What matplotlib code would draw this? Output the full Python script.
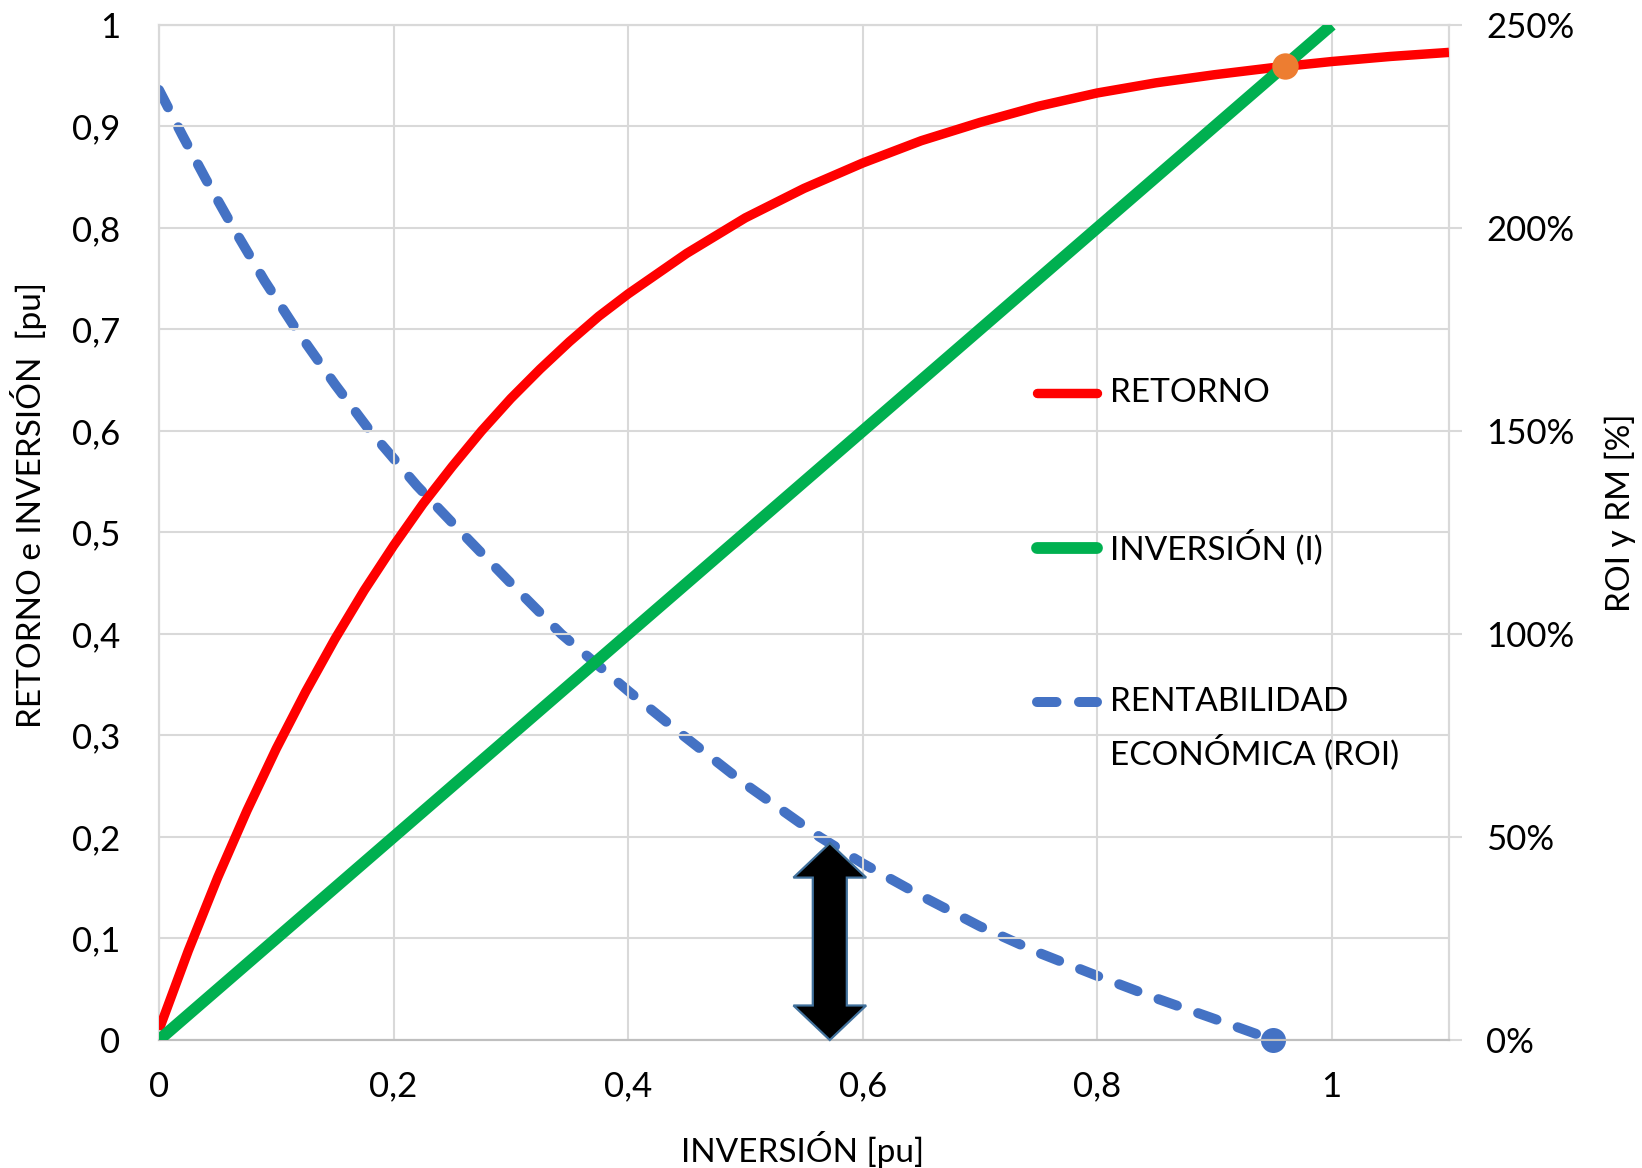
import matplotlib
matplotlib.use("Agg")
import matplotlib.pyplot as plt
from matplotlib.lines import Line2D
from matplotlib.patches import Polygon

plt.rcParams['font.family'] = ['Lato', 'DejaVu Sans']

# --- datos ---
inversion_x = [0.0, 1.0]
inversion_y = [0.0, 1.0]

retorno_x = [0.0, 0.025, 0.05, 0.075, 0.1, 0.125, 0.15, 0.175, 0.2, 0.225, 0.25, 0.275,
             0.3, 0.325, 0.35, 0.375, 0.4, 0.45, 0.5, 0.55, 0.6, 0.65, 0.7, 0.75,
             0.8, 0.85, 0.9, 0.95, 1.0, 1.05, 1.1]
retorno_y = [0.01, 0.088, 0.16, 0.226, 0.287, 0.343, 0.395, 0.443, 0.487, 0.528, 0.565, 0.6,
             0.632, 0.661, 0.688, 0.713, 0.735, 0.775, 0.81, 0.839, 0.864, 0.886, 0.904, 0.92,
             0.933, 0.943, 0.951, 0.958, 0.964, 0.969, 0.973]

roi_x = [0.0, 0.02, 0.04, 0.0634, 0.09, 0.117, 0.15, 0.18, 0.22, 0.258, 0.3, 0.343, 0.4,
         0.447, 0.5, 0.5635, 0.6, 0.65, 0.7, 0.75, 0.8, 0.85, 0.9, 0.95, 0.978]
roi_pct = [234, 222.8, 212, 200, 187, 175, 161.5, 150, 136.5, 125, 112.5, 100, 86,
           75, 63, 50, 43.5, 35.5, 28, 21.5, 15.8, 10.3, 5.2, 0, -3]

punto_equilibrio = (0.96, 0.96)     # RETORNO = INVERSIÓN
punto_roi_cero = (0.95, 0.0)        # ROI = 0 %
flecha_x, flecha_y = 0.572, 0.194   # flecha doble sobre el eje

ticks_x = [0, 0.2, 0.4, 0.6, 0.8, 1.0]
ticks_y = [0, 0.1, 0.2, 0.3, 0.4, 0.5, 0.6, 0.7, 0.8, 0.9, 1.0]
ticks_roi = [0, 50, 100, 150, 200, 250]

ROJO = '#ff0000'
VERDE = '#00b050'
AZUL = '#4472c4'
NARANJA = '#ed7d31'
GRIS = '#d9d9d9'
TRAZO_ROI = (1.95, 2.25)


def fmt_coma(v):
    s = f'{v:.1f}'.rstrip('0').rstrip('.')
    return s.replace('.', ',')


fig = plt.figure(figsize=(16.42, 11.68), dpi=100)
ax = fig.add_axes([0.09683, 0.10959, 0.78563, 0.86901])
ax2 = ax.twinx()

ax.set_xlim(0, 1.1)
ax.set_ylim(0, 1)
ax2.set_ylim(0, 250)

ax.plot(retorno_x, retorno_y, color=ROJO, lw=6.8, solid_capstyle='butt',
        solid_joinstyle='round', zorder=3)
ax.plot(inversion_x, inversion_y, color=VERDE, lw=8.5, solid_capstyle='butt', zorder=3)
ax.plot(*punto_equilibrio, 'o', color=NARANJA, ms=19, mec='none', zorder=4)

ax2.plot(roi_x, roi_pct, color=AZUL, lw=7.2, dashes=TRAZO_ROI,
         dash_capstyle='round', dash_joinstyle='round', zorder=3)
ax2.plot(punto_roi_cero[0], punto_roi_cero[1] * 250, 'o', color=AZUL, ms=18,
         mec='none', zorder=4, clip_on=False)

# flecha doble (bloque negro con borde azul)
semi_cuerpo, semi_cabeza, largo_cabeza = 0.0145, 0.031, 0.034
vert = [
    (flecha_x, flecha_y),
    (flecha_x + semi_cabeza, flecha_y - largo_cabeza),
    (flecha_x + semi_cuerpo, flecha_y - largo_cabeza),
    (flecha_x + semi_cuerpo, largo_cabeza),
    (flecha_x + semi_cabeza, largo_cabeza),
    (flecha_x, 0.0),
    (flecha_x - semi_cabeza, largo_cabeza),
    (flecha_x - semi_cuerpo, largo_cabeza),
    (flecha_x - semi_cuerpo, flecha_y - largo_cabeza),
    (flecha_x - semi_cabeza, flecha_y - largo_cabeza),
]
ax.add_patch(Polygon(vert, closed=True, facecolor='black', edgecolor='#41719c',
                     lw=1.6, zorder=5, clip_on=False))

# el eje secundario va detrás para que la flecha y el punto naranja queden encima
ax2.set_zorder(ax.get_zorder() - 1)
ax.patch.set_visible(False)

# rejilla y ejes
ax.set_xticks(ticks_x)
ax.set_yticks(ticks_y)
ax.set_xticklabels([fmt_coma(v) for v in ticks_x])
ax.set_yticklabels([fmt_coma(v) for v in ticks_y])
ax2.set_yticks(ticks_roi)
ax2.set_yticklabels([f'{v}%' for v in ticks_roi])
ax.grid(True, color=GRIS, lw=1.5, zorder=0)
ax.set_axisbelow(True)
ax.tick_params(axis='both', length=0, labelsize=25, pad=28)
ax.tick_params(axis='x', pad=22)
ax2.tick_params(axis='y', length=9, width=1.5, color=GRIS, labelsize=25, pad=18)
for a in (ax, ax2):
    for sp in a.spines.values():
        sp.set_color(GRIS)
        sp.set_linewidth(1.5)
    a.spines['bottom'].set_color('#bfbfbf')

ax.set_xlabel('INVERSIÓN [pu]', fontsize=24)
ax.set_ylabel('RETORNO e INVERSIÓN  [pu]', fontsize=24)
ax2.set_ylabel('ROI y RM [%]', fontsize=24)
ax.xaxis.set_label_coords(0.499, -0.09)
ax.yaxis.set_label_coords(-0.087, 0.527)
ax2.yaxis.set_label_coords(1.121, 0.519)

# leyenda
entradas = [
    (0.637, ROJO, 6.8, None, ['RETORNO']),
    (0.485, VERDE, 8.5, None, ['INVERSIÓN (I)']),
    (0.333, AZUL, 7.2, TRAZO_ROI, ['RENTABILIDAD', 'ECONÓMICA (ROI)']),
]
for y, color, lw, dashes, lineas in entradas:
    muestra = Line2D([0.7485, 0.80], [y, y], color=color, lw=lw,
                     solid_capstyle='round', dash_capstyle='round', zorder=6)
    if dashes:
        muestra.set_dashes(dashes)
    ax.add_line(muestra)
    for i, texto in enumerate(lineas):
        ax.text(0.811, y - 0.049 * i, texto, fontsize=24, va='center', ha='left', zorder=6)

fig.savefig('out.png', dpi=100)
